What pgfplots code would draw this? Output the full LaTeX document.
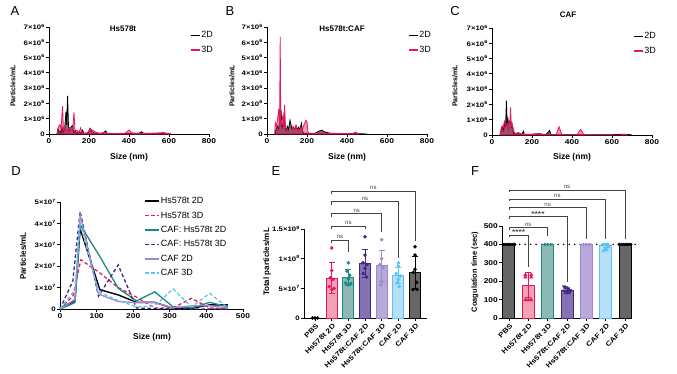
\documentclass[border=0pt]{standalone}
\usepackage{fontspec}
\setmainfont{Liberation Sans}
\newfontfamily\tf{Liberation Sans}[FakeStretch=1.2]
\usepackage{pgfplots}
\pgfplotsset{compat=1.18}
\definecolor{pk}{HTML}{E8175D}
\definecolor{pkfill}{HTML}{F3A2B6}
\definecolor{tl}{HTML}{1B8A83}
\definecolor{tlfill}{HTML}{8DB8B4}
\definecolor{dp}{HTML}{3D2A80}
\definecolor{dpfill}{HTML}{8672B3}
\definecolor{lv}{HTML}{9E88CC}
\definecolor{lvfill}{HTML}{B9A9DA}
\definecolor{lb}{HTML}{5CC4F2}
\definecolor{lbfill}{HTML}{B5E0F7}
\definecolor{gy}{HTML}{666666}
\definecolor{br}{HTML}{444444}
\pgfplotsset{
 prism/.style={scale only axis, anchor=south west, axis lines*=left,
   axis line style={line width=1pt},
   every tick/.style={line width=0.9pt, black}, tick align=outside, major tick length=3pt,
   clip=false, /pgf/number format/assume math mode=true,
   ticklabel style={font=\tf\bfseries\fontsize{7}{8}\selectfont, inner sep=1pt},
   yticklabel style={font=\tf\bfseries\fontsize{6.5}{7}\selectfont}},
 sizeax/.style={prism, width=160pt, height=107pt, xmin=0, xmax=800, ymin=0, ymax=7,
   xtick={0,200,400,600,800}, ytick={0,1,...,7},
   yticklabels={0,1×10\textsuperscript{6},2×10\textsuperscript{6},3×10\textsuperscript{6},4×10\textsuperscript{6},5×10\textsuperscript{6},6×10\textsuperscript{6},7×10\textsuperscript{6}},
   legend style={at={(0.86,0.99)}, anchor=north west, draw=none, fill=none,
     font=\fontsize{9}{9}\selectfont, cells={anchor=west}, row sep=4.5pt,
     nodes={inner sep=1pt, text height=6.5pt, text depth=1.5pt}},
   legend image code/.code={\draw[#1,fill=none,line width=1.5pt] (0pt,0pt) -- (9pt,0pt);}},
 d2/.style={draw=black, line width=0.8pt, fill=black, fill opacity=0.55},
 d3/.style={draw=pk, line width=0.8pt, fill=pk, fill opacity=0.45},
 barax/.style={prism, xtick={0,...,6},
   xticklabels={PBS,Hs578t 2D,Hs578t 3D,Hs578t:CAF 2D,Hs578t:CAF 3D,CAF 2D,CAF 3D},
   xticklabel style={rotate=45, anchor=north east, yshift=-1pt, font=\tf\bfseries\fontsize{6.8}{7}\selectfont}},
 bar/.style={ybar, bar width=#1, bar shift=0pt, line width=1pt},
 eb/.style={#1, mark=none, line width=0.9pt, forget plot, error bars/.cd, y dir=both, y explicit,
   error bar style={draw=#1, line width=0.9pt}, error mark options={draw=#1, line width=0.9pt, mark size=3pt, rotate=90}},
 dots/.style={only marks, mark=*, mark size=1.6pt, color=#1, forget plot},
}
\newcommand{\brk}[5]{% x1,y1,x2,ytop,ybot
 \draw[br, line width=0.8pt] (axis cs:#1,#2) |- (axis cs:#3,#4) -- (axis cs:#3,#5);}
\begin{document}
\begin{tikzpicture}
\useasboundingbox (0,0) rectangle (677pt,373pt);
% ---------- A ----------
\begin{axis}[sizeax, at={(49pt,239pt)}]
\addplot[d2] coordinates {(40,0)(45,0.35)(50,0.1)(55,0.2)(60,0.05)(65,0.45)(70,0.1)(78,0.3)(85,1.46)(88,0.6)(93,2.5)(98,0.2)(105,0.3)(112,0.5)(118,0.55)(123,0.1)(130,0.2)(140,0.05)(150,0.15)(160,0.05)(168,0.25)(175,0.02)(195,0.05)(205,0.37)(215,0.15)(230,0.05)(250,0.02)(270,0.05)(283,0.2)(292,0.02)(380,0.02)(400,0.05)(420,0.02)(450,0.05)(463,0.15)(475,0.03)(520,0.02)(560,0.03)(600,0.02)(610,0)} \closedcycle;
\addplot[d3] coordinates {(40,0)(45,0.3)(50,0.55)(55,0.6)(60,0.35)(68,1.83)(72,0.3)(78,0.5)(82,0.2)(90,0.3)(95,0.1)(100,0.45)(110,0.3)(118,0.2)(125,1.42)(130,0.2)(140,0.25)(150,0.1)(158,0.4)(164,0.1)(175,0.05)(195,0.1)(205,0.35)(215,0.25)(230,0.15)(250,0.05)(280,0.1)(300,0.02)(380,0.05)(400,0.26)(415,0.08)(450,0.03)(500,0.05)(560,0.08)(570,0.1)(590,0.05)(610,0)} \closedcycle;
\legend{2D,3D}
\end{axis}
% ---------- B ----------
\begin{axis}[sizeax, at={(267pt,239pt)}]
\addplot[d2] coordinates {(40,0)(45,0.3)(52,0.5)(58,0.3)(63,0.9)(70,1.6)(75,0.4)(80,0.6)(85,1.25)(90,0.4)(96,0.2)(102,0.5)(108,0.3)(115,0.9)(120,0.6)(125,0.3)(132,0.45)(138,0.3)(145,0.5)(152,0.3)(158,0.45)(165,0.3)(172,0.7)(178,0.15)(185,0.05)(210,0.05)(240,0.05)(262,0.2)(275,0.25)(285,0.15)(300,0.1)(315,0.05)(340,0.02)(430,0.03)(442,0.1)(455,0.02)(500,0)} \closedcycle;
\addplot[d3] coordinates {(38,0)(42,0.75)(48,0.5)(55,1.2)(59,1.65)(63,0.6)(66,6.35)(69,0.6)(75,0.9)(80,1.2)(84,0.3)(88,1.9)(92,0.6)(98,0.3)(105,0.2)(115,0.1)(125,0.15)(130,0.5)(135,0.2)(145,0.6)(150,0.3)(160,0.15)(168,0.4)(175,0.2)(185,0.6)(195,0.9)(200,0.8)(205,0.1)(215,0.02)(260,0.05)(300,0.05)(430,0.02)(445,0.12)(455,0)} \closedcycle;
\legend{2D,3D}
\end{axis}
% ---------- C ----------
\begin{axis}[sizeax, at={(492pt,238pt)}]
\addplot[d2] coordinates {(40,0)(45,0.2)(52,0.5)(58,0.3)(63,0.8)(68,0.6)(72,2.25)(76,0.6)(80,1.0)(84,0.5)(88,0.9)(93,1.0)(97,0.5)(102,0.6)(108,0.1)(120,0.05)(130,0.15)(138,0.02)(150,0.05)(157,0.25)(162,0.02)(200,0.05)(240,0.08)(270,0.02)(288,0.3)(295,0.02)(400,0.02)(600,0.02)(660,0.05)(690,0.02)(700,0)} \closedcycle;
\addplot[d3] coordinates {(40,0)(45,0.4)(50,0.6)(56,0.5)(62,0.9)(68,0.7)(75,0.6)(80,0.8)(85,0.5)(90,1.0)(93,1.8)(96,0.6)(100,0.8)(106,0.4)(112,0.15)(125,0.1)(135,0.15)(150,0.05)(200,0.05)(230,0.1)(260,0.02)(320,0)(335,0.54)(350,0)(425,0)(443,0.37)(460,0)(640,0)(660,0.05)(680,0)} \closedcycle;
\legend{2D,3D}
\end{axis}
% ---------- D ----------
\begin{axis}[prism, at={(60pt,64pt)}, width=183pt, height=107pt, xmin=0, xmax=500, ymin=0, ymax=5,
  xtick={0,100,...,500}, ytick={0,...,5},
  yticklabels={0,1×10\textsuperscript{7},2×10\textsuperscript{7},3×10\textsuperscript{7},4×10\textsuperscript{7},5×10\textsuperscript{7}},
  legend style={at={(0.443,1.075)}, anchor=north west, draw=none, fill=none,
     font=\fontsize{9}{9}\selectfont, cells={anchor=west}, row sep=4.4pt,
     nodes={inner sep=1pt, text height=6.5pt, text depth=1.5pt}},
  legend image code/.code={\draw[#1,line width=1.5pt] (0pt,0pt) -- (14pt,0pt);}]
\addplot[black, line width=1.4pt] coordinates {(0,0.05)(41,0.38)(55,3.75)(109,0.9)(159,0.66)(209,0.31)(259,0.31)(309,0.03)(359,0.03)(409,0.19)(459,0.19)};
\addplot[pk, line width=1.3pt, dash pattern=on 3.5pt off 2.5pt] coordinates {(0,0)(35,0.6)(57,2.3)(108,1.7)(159,1.0)(209,0.55)(259,0.05)(309,0.05)(359,0.5)(409,0.05)(459,0)};
\addplot[tl, line width=1.3pt] coordinates {(0,0)(41,0.3)(55,3.94)(109,2.45)(159,0.97)(209,0.38)(259,0.8)(309,0.1)(359,0.05)(409,0.31)(459,0.1)};
\addplot[dp, line width=1.3pt, dash pattern=on 3.5pt off 2.5pt] coordinates {(0,0)(35,1.3)(55,4.56)(105,0.6)(159,2.06)(209,0.05)(259,0.02)(309,0)(359,0)(409,0)(459,0)};
\addplot[lv, line width=1.3pt] coordinates {(0,0)(41,0.45)(55,4.4)(105,0.7)(159,0.35)(209,0.3)(259,0.3)(309,0.05)(359,0.15)(409,0.15)(459,0.05)};
\addplot[lb, line width=1.3pt, dash pattern=on 3.5pt off 2.5pt] coordinates {(0,0)(41,0.9)(55,4.0)(105,0.8)(159,0.4)(209,0.1)(259,0.15)(309,0.94)(359,0.1)(409,0.73)(459,0.05)};
\legend{Hs578t 2D,Hs578t 3D,CAF: Hs578t 2D,CAF: Hs578t 3D,CAF 2D,CAF 3D}
\end{axis}
% ---------- E ----------
\begin{axis}[barax, at={(304pt,55pt)}, width=123pt, height=89pt, xmin=-0.66, xmax=6.72, ymin=0, ymax=15,
  ytick={0,5,10,15}, yticklabels={0,5×10\textsuperscript{7},1×10\textsuperscript{8},1.5×10\textsuperscript{8}}]
\addplot[bar=11pt, fill=pkfill, draw=pk] coordinates {(1,6.7)};
\addplot[bar=11pt, fill=tlfill, draw=tl] coordinates {(2,6.85)};
\addplot[bar=11pt, fill=dpfill, draw=dp] coordinates {(3,9.2)};
\addplot[bar=11pt, fill=lvfill, draw=lv] coordinates {(4,8.8)};
\addplot[bar=11pt, fill=lbfill, draw=lb] coordinates {(5,7.2)};
\addplot[bar=11pt, fill=gy, draw=black] coordinates {(6,7.7)};
\addplot[eb=pk] coordinates {(1,6.7) +- (0,2.6)};
\addplot[eb=tl] coordinates {(2,6.85) +- (0,1.35)};
\addplot[eb=dp] coordinates {(3,9.2) +- (0,2.3)};
\addplot[eb=lv] coordinates {(4,8.8) +- (0,2.6)};
\addplot[eb=lb] coordinates {(5,7.2) +- (0,1.3)};
\addplot[eb=black] coordinates {(6,7.7) +- (0,2.7)};
\addplot[dots=black] coordinates {(-0.15,0)(0,0)(0.15,0)};
\addplot[dots=pk] coordinates {(1,11.8)(1,8.0)(0.92,6.8)(1.08,6.5)(0.85,5.3)(1,4.8)(1.15,5.0)};
\addplot[dots=tl] coordinates {(2,9.3)(1.92,7.9)(2.08,7.2)(2,6.6)(1.85,5.9)(2.15,5.8)(2,5.6)};
\addplot[dots=dp] coordinates {(3,13.7)(3,10.6)(2.88,9.3)(3.12,9.0)(3,8.4)(2.9,7.5)(3.1,6.9)};
\addplot[dots=lv] coordinates {(4,13.2)(4,10.0)(3.9,9.0)(4.1,8.5)(4,6.2)(3.95,5.6)};
\addplot[dots=lb] coordinates {(5,9.3)(5,8.8)(4.88,7.5)(5.12,7.1)(5,6.5)(4.95,6.0)(5.05,5.3)};
\addplot[dots=black] coordinates {(6,12.0)(6,10.6)(6,8.2)(5.9,7.7)(6.1,6.0)(5.88,4.8)(6.12,4.8)};
\brk{1}{12.6}{2}{13.1}{11.2}
\brk{1}{15.0}{3}{15.5}{15.0}
\brk{1}{17.1}{4}{17.6}{14.5}
\brk{1}{19.1}{5}{19.6}{10.1}
\brk{1}{20.9}{6}{21.4}{12.9}
\begin{scope}[every node/.style={font=\fontsize{6}{6}\selectfont, text=br, anchor=south, inner sep=1.2pt}]
\node at (axis cs:1.5,13.1) {ns};
\node at (axis cs:2,15.5) {ns};
\node at (axis cs:2.5,17.6) {ns};
\node at (axis cs:3,19.6) {ns};
\node at (axis cs:3.5,21.4) {ns};
\end{scope}
\end{axis}
% ---------- F ----------
\begin{axis}[barax, at={(502pt,55pt)}, width=130pt, height=92pt, xmin=-0.36, xmax=6.36, ymin=0, ymax=500,
  ytick={0,100,...,500}, yticklabel style={font=\tf\bfseries\fontsize{7}{8}\selectfont}]
\addplot[black, line width=1.8pt, line cap=round, dash pattern=on 0pt off 5.5pt, forget plot] coordinates {(-0.3,400)(6.55,400)};
\addplot[bar=12pt, fill=gy, draw=black] coordinates {(0,400)};
\addplot[bar=12pt, fill=pkfill, draw=pk] coordinates {(1,178)};
\addplot[bar=12pt, fill=tlfill, draw=tl] coordinates {(2,400)};
\addplot[bar=12pt, fill=dpfill, draw=dp] coordinates {(3,148)};
\addplot[bar=12pt, fill=lvfill, draw=lv] coordinates {(4,400)};
\addplot[bar=12pt, fill=lbfill, draw=lb] coordinates {(5,395)};
\addplot[bar=12pt, fill=gy, draw=black] coordinates {(6,400)};
\addplot[eb=pk] coordinates {(1,178) +- (0,67)};
\addplot[eb=dp] coordinates {(3,148) +- (0,15)};
\addplot[eb=lb] coordinates {(5,395) +- (0,12)};
\addplot[dots=black, mark size=1.4pt] coordinates {(-0.3,400)(-0.2,400)(-0.1,400)(0,400)(0.1,400)(0.2,400)(0.3,400)};
\addplot[dots=pk, mark=triangle*, mark size=2pt] coordinates {(0.85,235)(0.85,222)(1.15,235)(1.15,222)(0.85,98)(1.15,98)(1,98)};
\addplot[dots=tl, mark size=1.4pt] coordinates {(1.85,400)(2,400)(2.15,400)};
\addplot[dots=dp, mark=triangle*, mark size=2pt, mark options={rotate=180}] coordinates {(2.85,170)(2.95,165)(3.05,160)(3.15,150)(2.85,148)(3.0,140)(3.15,142)};
\addplot[dots=lv, mark size=1.4pt] coordinates {(3.85,400)(4,400)(4.15,400)};
\addplot[dots=lb, mark size=1.6pt] coordinates {(4.9,400)(5.1,400)(5.15,388)(5.0,380)(4.9,365)(5.05,370)};
\addplot[dots=black, mark size=1.4pt] coordinates {(5.7,400)(5.8,400)(5.9,400)(6,400)(6.1,400)(6.2,400)(6.3,400)};
\brk{0}{440}{1}{451}{277}
\brk{0}{480}{2}{491}{446}
\brk{0}{540}{3}{551}{197}
\brk{0}{589}{4}{600}{428}
\brk{0}{636}{5}{647}{428}
\brk{0}{685}{6}{696}{428}
\begin{scope}[every node/.style={font=\fontsize{6}{6}\selectfont, text=br, anchor=south, inner sep=1.2pt}]
\node[font=\tf\bfseries\fontsize{7}{7}\selectfont, inner sep=0pt, anchor=base] at (axis cs:0.5,454) {****};
\node at (axis cs:1,491) {ns};
\node[font=\tf\bfseries\fontsize{7}{7}\selectfont, inner sep=0pt, anchor=base] at (axis cs:1.5,554) {****};
\node at (axis cs:2,600) {ns};
\node at (axis cs:2.5,647) {ns};
\node at (axis cs:3,696) {ns};
\end{scope}
\end{axis}
% ---------- labels ----------
\begin{scope}[every node/.style={font=\fontsize{13}{13}\selectfont}]
\node at (15pt,362pt) {A};
\node at (230pt,362pt) {B};
\node at (455pt,362pt) {C};
\node at (16pt,202pt) {D};
\node at (276pt,202pt) {E};
\node at (475pt,202pt) {F};
\end{scope}
\begin{scope}[every node/.style={font=\bfseries\fontsize{8}{9}\selectfont}]
\node at (123pt,344pt) {Hs578t};
\node at (342pt,344pt) {Hs578t:CAF};
\node at (568pt,358pt) {CAF};
\node[font=\bfseries\fontsize{8.5}{9}\selectfont] at (129pt,216pt) {Size (nm)};
\node[font=\bfseries\fontsize{8.5}{9}\selectfont] at (347pt,216pt) {Size (nm)};
\node[font=\bfseries\fontsize{8.5}{9}\selectfont] at (572pt,216pt) {Size (nm)};
\node[font=\bfseries\fontsize{8.5}{9}\selectfont] at (152pt,36pt) {Size (nm)};
\node[rotate=90, font=\bfseries\fontsize{7}{8}\selectfont] at (13pt,287pt) {Particles/mL};
\node[rotate=90, font=\bfseries\fontsize{7}{8}\selectfont] at (232pt,287pt) {Particles/mL};
\node[rotate=90, font=\bfseries\fontsize{7}{8}\selectfont] at (455pt,287pt) {Particles/mL};
\node[rotate=90] at (23pt,117pt) {Particles/mL};
\node[rotate=90] at (267pt,111pt) {Total particles/mL};
\node[rotate=90, font=\bfseries\fontsize{7.5}{8}\selectfont] at (475pt,101pt) {Coagulation time (sec)};
\end{scope}
\end{tikzpicture}
\end{document}
